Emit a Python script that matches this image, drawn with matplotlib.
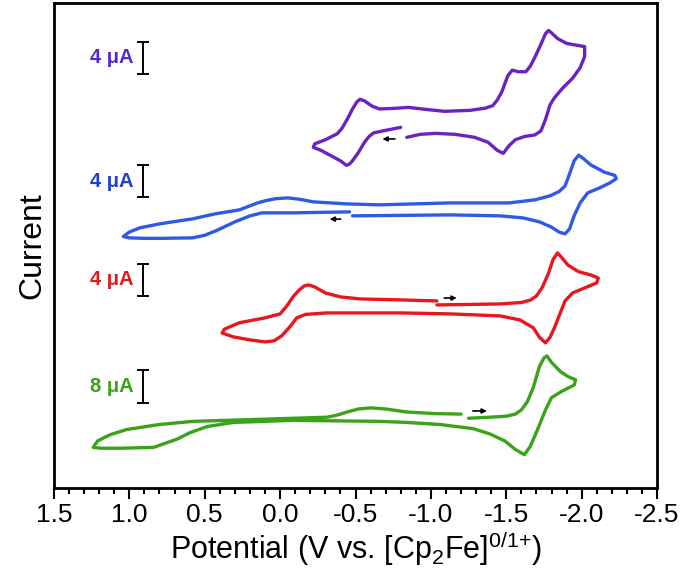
import numpy as np
import matplotlib.pyplot as plt

plt.rcParams['font.family'] = ['Liberation Sans', 'DejaVu Sans']
plt.rcParams['mathtext.fontset'] = 'custom'
plt.rcParams['mathtext.rm'] = 'Liberation Sans'

purple_v = [-0.80, -0.70, -0.62, -0.59, -0.56, -0.52, -0.48, -0.46, -0.44, -0.40, -0.33, -0.27, -0.22,
            -0.23, -0.30, -0.38, -0.41, -0.45, -0.48, -0.51, -0.53, -0.56, -0.61, -0.66, -0.76,
            -0.85, -0.96, -1.09, -1.26, -1.36, -1.41, -1.44, -1.47, -1.51, -1.54, -1.58, -1.63,
            -1.66, -1.69, -1.73, -1.76, -1.78, -1.80, -1.84, -1.90, -1.96, -2.02, -2.02, -1.99,
            -1.94, -1.87, -1.82, -1.79, -1.76, -1.73, -1.69, -1.62, -1.56, -1.52, -1.48, -1.44,
            -1.38, -1.29, -1.16, -1.03, -0.93, -0.84]
purple_i = [1.23, 0.86, 0.55, 0.1, -0.6, -1.85, -2.9, -3.3, -3.46, -2.9, -2.2, -1.6, -1.23,
            -0.8, -0.3, 0.45, 1.1, 2.4, 3.5, 4.4, 4.69, 4.5, 3.85, 3.5, 3.58,
            3.70, 3.46, 3.21, 3.33, 3.6, 3.9, 4.6, 5.6, 7.6, 8.3, 8.1, 8.1,
            8.8, 9.9, 11.5, 12.8, 13.2, 12.9, 12.2, 11.6, 11.4, 11.2, 10.0, 8.6,
            7.3, 6.0, 4.9, 4.0, 2.2, 0.8, 0.3, 0.1, -0.3, -1.0, -1.98, -1.6,
            -0.62, 0.0, 0.37, 0.49, 0.37, 0.0]

blue_v = [-0.48, -0.80, -1.13, -1.46, -1.61, -1.72, -1.80, -1.85, -1.89, -1.92, -1.95, -1.99,
          -2.04, -2.12, -2.19, -2.23, -2.22, -2.15, -2.06, -2.01, -1.98, -1.95, -1.92, -1.89,
          -1.85, -1.79, -1.69, -1.52, -1.13, -0.66, -0.44, -0.22, -0.13, -0.05, 0.03, 0.09,
          0.15, 0.27, 0.43, 0.58, 0.80, 0.93, 1.00, 1.04, 1.00, 0.90, 0.80, 0.58, 0.50,
          0.42, 0.30, 0.20, 0.12, -0.09, -0.26, -0.46]
blue_i = [0.0, 0.06, 0.12, 0.0, -0.25, -0.74, -1.4, -2.0, -2.22, -1.6, 0.0, 1.6,
          2.84, 3.46, 4.1, 4.6, 5.0, 5.4, 6.3, 7.1, 7.5, 6.8, 5.2, 3.7,
          3.0, 2.47, 1.98, 1.6, 1.6, 1.36, 1.48, 1.73, 2.05, 2.22, 2.12, 1.9,
          1.6, 0.74, 0.25, -0.37, -0.99, -1.48, -2.0, -2.55, -2.72, -2.78, -2.78, -2.72, -2.4,
          -1.8, -0.74, 0.0, 0.37, 0.37, 0.43, 0.49]

red_v = [-1.04, -1.26, -1.46, -1.60, -1.66, -1.70, -1.74, -1.78, -1.81, -1.84, -1.87, -1.91,
         -1.98, -2.06, -2.11, -2.10, -2.02, -1.94, -1.89, -1.86, -1.82, -1.79, -1.76, -1.72,
         -1.68, -1.59, -1.46, -1.13, -0.80, -0.46, -0.31, -0.17, -0.11, -0.07, -0.01, 0.04,
         0.10, 0.20, 0.31, 0.385, 0.37, 0.27, 0.10, 0.00, -0.045, -0.09, -0.13, -0.16,
         -0.19, -0.23, -0.30, -0.40, -0.53, -0.80, -1.04]
red_i = [0.0, 0.06, 0.12, 0.3, 0.6, 1.1, 2.2, 3.9, 5.6, 6.42, 5.8, 4.9,
         4.1, 3.7, 3.33, 2.72, 2.1, 1.48, 0.5, -0.9, -2.8, -4.0, -4.69, -4.0,
         -2.84, -1.85, -1.36, -1.11, -0.99, -0.99, -0.99, -1.17, -1.6, -2.59, -3.83, -4.44,
         -4.57, -4.32, -3.95, -3.46, -3.0, -2.2, -1.6, -1.11, -0.12, 1.11, 1.9, 2.35,
         2.47, 2.22, 1.48, 0.99, 0.74, 0.62, 0.49]

green_v = [-1.25, -1.39, -1.50, -1.56, -1.60, -1.64, -1.68, -1.72, -1.75, -1.77, -1.80, -1.86,
           -1.91, -1.96, -1.95, -1.87, -1.80, -1.76, -1.71, -1.66, -1.62, -1.56, -1.49, -1.39,
           -1.28, -1.06, -0.84, -0.66, -0.09, 0.31, 0.485, 0.60, 0.68, 0.84, 1.06, 1.19,
           1.24, 1.21, 1.13, 1.02, 0.80, 0.58, 0.13, -0.31, -0.37, -0.45, -0.52, -0.60, -0.70,
           -0.84, -1.03, -1.20]
green_i = [0.0, 0.26, 0.51, 1.03, 2.05, 4.1, 7.7, 12.8, 14.9, 15.4, 13.8, 11.5,
           10.3, 9.5, 8.2, 6.7, 5.1, 2.05, -2.56, -6.9, -9.0, -7.7, -5.6, -3.85,
           -2.56, -1.54, -1.03, -0.77, -0.51, -1.03, -2.05, -3.6, -5.1, -7.2, -7.4, -7.4,
           -7.2, -5.6, -4.1, -2.8, -1.54, -0.77, -0.26, 0.26, 0.7, 1.6, 2.3, 2.56, 2.3,
           1.54, 1.15, 1.03]

tick_vals = [1.5, 1.0, 0.5, 0.0, -0.5, -1.0, -1.5, -2.0, -2.5]
tick_labels = ['1.5', '1.0', '0.5', '0.0', '-0.5', '-1.0', '-1.5', '-2.0', '-2.5']

bar_labels = ['4 μA', '4 μA', '4 μA', '8 μA']
bar_sizes = [4, 4, 4, 8]

# stacking: vertical offset, gain (green is shown at half scale)
offsets = [43.3, 33.6, 22.6, 8.6]
gains = [1.0, 1.0, 1.0, 0.5]
bar_bottoms = [51.1, 35.9, 23.7, 10.5]
line_colors = ['#6c22c2', '#2f5ae8', '#e8171d', '#3aa31a']
text_colors = ['#5528d6', '#1f3fd2', '#e01a1f', '#3aa31a']
# scan direction arrows (start V, end V, height) per trace
arrows = [(-0.78, -0.66, 43.1), (-0.42, -0.31, 33.2), (-1.07, -1.19, 23.45), (-1.26, -1.39, 9.5)]

fig, ax = plt.subplots(figsize=(6.83, 5.85), dpi=100)
fig.subplots_adjust(left=0.079, right=0.962, bottom=0.166, top=0.995)

series = [(purple_v, purple_i), (blue_v, blue_i), (red_v, red_i), (green_v, green_i)]
for k, (v, cur) in enumerate(series):
    y = offsets[k] + np.array(cur) * gains[k]
    ax.plot(v, y, color=line_colors[k], lw=2.4, solid_capstyle='round', solid_joinstyle='round')

    # scale bar
    h = bar_sizes[k] * gains[k]
    ax.errorbar([0.91], [bar_bottoms[k] + h / 2], yerr=[h / 2], color='k', lw=1.4,
                capsize=4, capthick=1.4)
    ax.text(0.972, bar_bottoms[k] + h / 2, bar_labels[k], ha='right', va='center',
            color=text_colors[k], fontsize=14.5, fontweight='bold')

    a0, a1, ay = arrows[k]
    ax.annotate('', xy=(a1, ay), xytext=(a0, ay),
                arrowprops=dict(arrowstyle='-|>', color='k', lw=1.2, mutation_scale=7))

ax.set_xlim(1.5, -2.5)
ax.set_ylim(0, 59.9)
ax.set_xticks(tick_vals)
ax.set_xticklabels(tick_labels)
ax.set_xticks(np.arange(1.5, -2.55, -0.1), minor=True)
ax.set_yticks([])
ax.tick_params(axis='x', which='major', direction='out', length=8, width=1.5, labelsize=19, pad=3)
ax.tick_params(axis='x', which='minor', direction='out', length=4, width=1.5)
for s in ax.spines.values():
    s.set_linewidth(2.0)

ax.set_xlabel(r'Potential (V vs. [Cp$_\mathregular{2}$Fe]$^\mathregular{0/1{+}}$)', fontsize=22, labelpad=1)
ax.set_ylabel('Current', fontsize=23, labelpad=5)

fig.savefig('out.png', dpi=100)
